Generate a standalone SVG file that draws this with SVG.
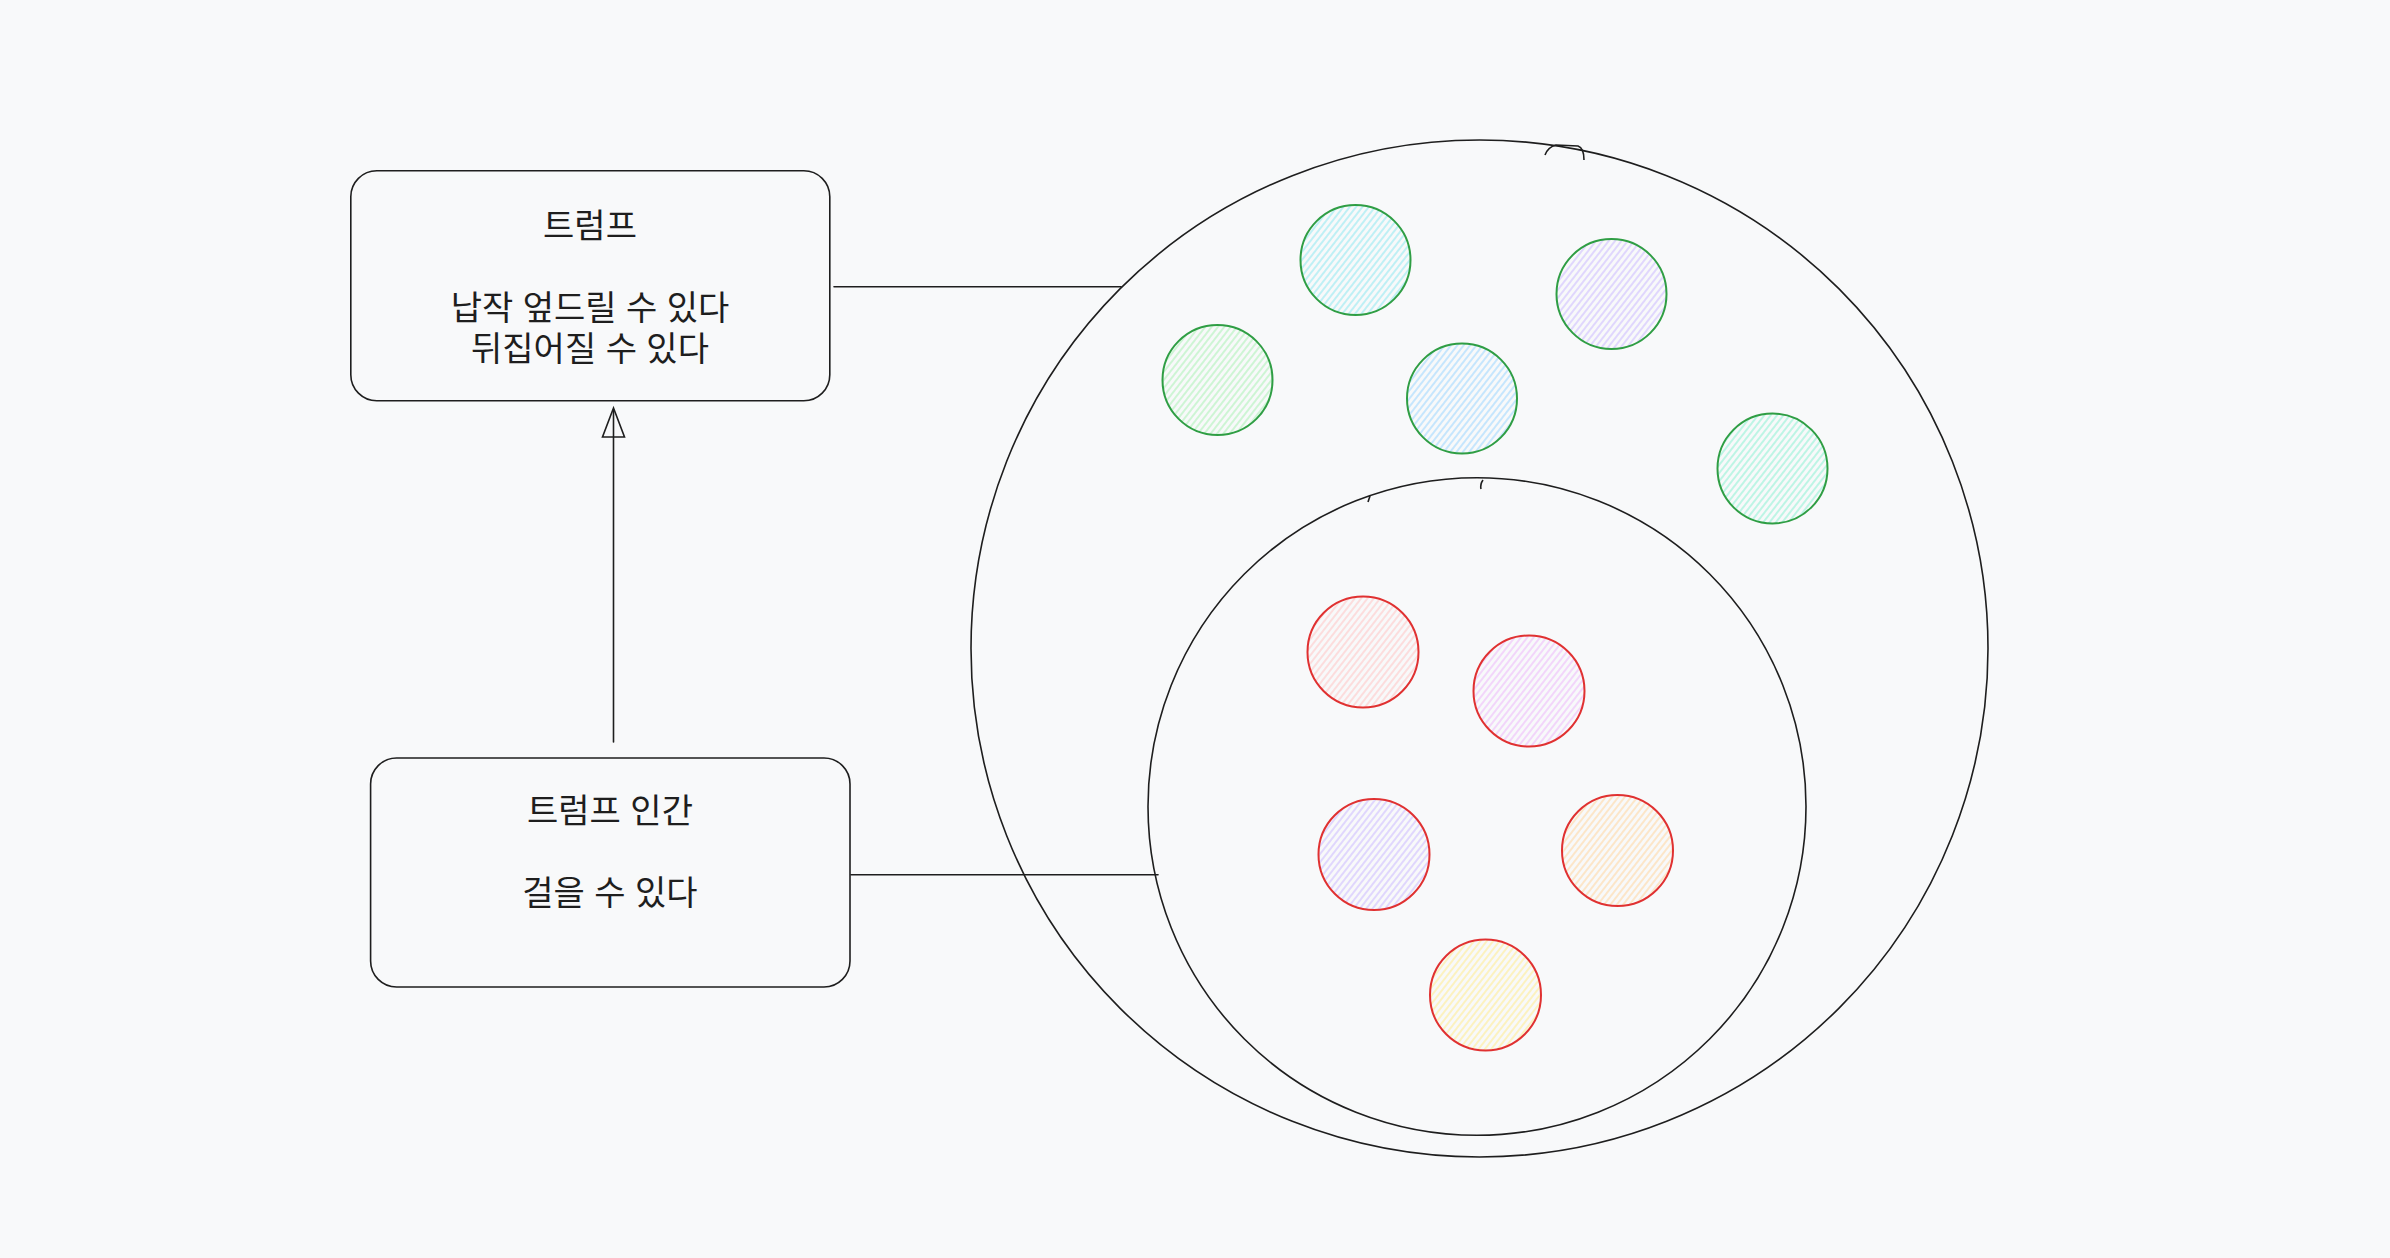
<svg xmlns="http://www.w3.org/2000/svg" width="2390" height="1258" viewBox="0 0 2390 1258">
<defs>
<style>
.bg{fill:#f8f9fa}
.box{fill:none;stroke:#1e1e1e;stroke-width:1.6}
.big{fill:none;stroke:#1e1e1e;stroke-width:1.6}
.con{fill:none;stroke:#1e1e1e;stroke-width:1.6;stroke-linecap:round}
.txt{font-family:"Liberation Sans","Noto Sans CJK KR",sans-serif;font-size:34px;fill:#1e1e1e;text-anchor:middle}
.g{stroke:#2f9e44;stroke-width:2}
.r{stroke:#e03131;stroke-width:2}
</style>
<pattern id="hCyan" patternUnits="userSpaceOnUse" width="5" height="10" patternTransform="rotate(38)"><line x1="1" y1="0" x2="1" y2="10" stroke="#99e9f2" stroke-width="1.2"/></pattern>
<pattern id="hLav" patternUnits="userSpaceOnUse" width="5" height="10" patternTransform="rotate(38)"><line x1="1" y1="0" x2="1" y2="10" stroke="#d0bfff" stroke-width="1.2"/></pattern>
<pattern id="hGreen" patternUnits="userSpaceOnUse" width="5" height="10" patternTransform="rotate(38)"><line x1="1" y1="0" x2="1" y2="10" stroke="#b2f2bb" stroke-width="1.2"/></pattern>
<pattern id="hBlue" patternUnits="userSpaceOnUse" width="5" height="10" patternTransform="rotate(38)"><line x1="1" y1="0" x2="1" y2="10" stroke="#a5d8ff" stroke-width="1.2"/></pattern>
<pattern id="hTeal" patternUnits="userSpaceOnUse" width="5" height="10" patternTransform="rotate(38)"><line x1="1" y1="0" x2="1" y2="10" stroke="#96f2d7" stroke-width="1.2"/></pattern>
<pattern id="hPink" patternUnits="userSpaceOnUse" width="5" height="10" patternTransform="rotate(38)"><line x1="1" y1="0" x2="1" y2="10" stroke="#ffc9c9" stroke-width="1.2"/></pattern>
<pattern id="hGrape" patternUnits="userSpaceOnUse" width="5" height="10" patternTransform="rotate(38)"><line x1="1" y1="0" x2="1" y2="10" stroke="#eebefa" stroke-width="1.2"/></pattern>
<pattern id="hOrange" patternUnits="userSpaceOnUse" width="5" height="10" patternTransform="rotate(38)"><line x1="1" y1="0" x2="1" y2="10" stroke="#ffd8a8" stroke-width="1.2"/></pattern>
<pattern id="hYellow" patternUnits="userSpaceOnUse" width="5" height="10" patternTransform="rotate(38)"><line x1="1" y1="0" x2="1" y2="10" stroke="#ffec99" stroke-width="1.2"/></pattern>
</defs>
<rect class="bg" x="0" y="0" width="2390" height="1258"/>

<g id="outer-set">
<ellipse class="big" cx="1479.5" cy="648.5" rx="508.5" ry="508.5"/>
<path class="big" d="M1545 155 Q1548 147 1556 145 L1578 146 Q1584 148 1584 160" stroke-width="1.2"/>
</g>
<g id="inner-set">
<ellipse class="big" cx="1477" cy="806.5" rx="329" ry="328.8"/>
<path class="big" d="M1370 496 L1368 502" stroke-width="1.2"/>
<path class="big" d="M1483 480 Q1480 484 1481 489" stroke-width="1.2"/>
</g>

<g id="connectors">
<line class="con" x1="834" y1="286.7" x2="1121" y2="286.7"/>
<line class="con" x1="851" y1="874.7" x2="1158" y2="874.7"/>
<line class="con" x1="613.5" y1="742" x2="613.5" y2="410"/>
<polygon class="con" points="613.5,408 602.5,437 624.5,437"/>
</g>

<g id="box-trump">
<rect class="box" x="350.8" y="170.8" width="479" height="230" rx="26"/>
<text class="txt" x="590" y="237.5">트럼프</text>
<text class="txt" x="590" y="320">납작 엎드릴 수 있다</text>
<text class="txt" x="590" y="361">뒤집어질 수 있다</text>
</g>

<g id="box-trump-human">
<rect class="box" x="370.6" y="758" width="479.4" height="229" rx="26"/>
<text class="txt" x="610" y="822.5">트럼프 인간</text>
<text class="txt" x="610" y="904.5">걸을 수 있다</text>
</g>

<g id="dot1"><circle class="g" cx="1355.5" cy="260" r="55" fill="url(#hCyan)"/></g>
<g id="dot2"><circle class="g" cx="1611.5" cy="294" r="55" fill="url(#hLav)"/></g>
<g id="dot3"><circle class="g" cx="1217.5" cy="380" r="55" fill="url(#hGreen)"/></g>
<g id="dot4"><circle class="g" cx="1462" cy="398.5" r="55" fill="url(#hBlue)"/></g>
<g id="dot5"><circle class="g" cx="1772.5" cy="468.5" r="55" fill="url(#hTeal)"/></g>
<g id="dot6"><circle class="r" cx="1363" cy="652" r="55.5" fill="url(#hPink)"/></g>
<g id="dot7"><circle class="r" cx="1529" cy="691" r="55.5" fill="url(#hGrape)"/></g>
<g id="dot8"><circle class="r" cx="1374" cy="854.5" r="55.5" fill="url(#hLav)"/></g>
<g id="dot9"><circle class="r" cx="1617.5" cy="850.5" r="55.5" fill="url(#hOrange)"/></g>
<g id="dot10"><circle class="r" cx="1485.5" cy="995" r="55.5" fill="url(#hYellow)"/></g>
</svg>
